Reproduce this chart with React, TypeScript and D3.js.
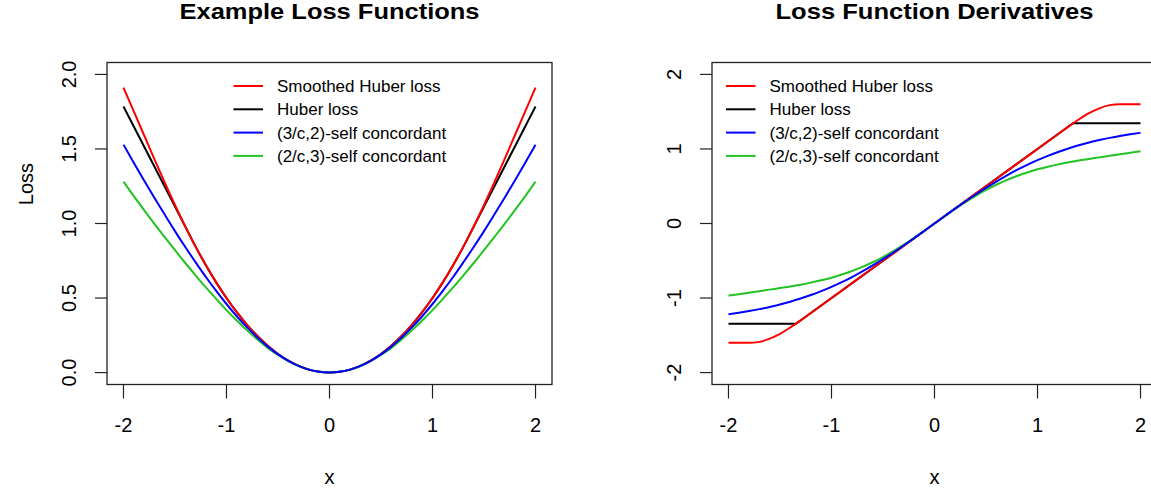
import React from "react";
import * as d3 from "d3";

// ---------- data ----------
const xGrid = [
  -2.0, -1.9, -1.8, -1.7, -1.6, -1.5, -1.4, -1.3, -1.2, -1.1, -1.0, -0.9, -0.8, -0.7, -0.6, -0.5, -0.4, -0.3, -0.2, -0.1,
  0.0, 0.1, 0.2, 0.3, 0.4, 0.5, 0.6, 0.7, 0.8, 0.9, 1.0, 1.1, 1.2, 1.3, 1.4, 1.5, 1.6, 1.7, 1.8, 1.9, 2.0,
];

// Loss values
const smoothedHuberLoss = [
  1.912, 1.752, 1.592, 1.432, 1.275, 1.124, 0.98, 0.845, 0.72, 0.605, 0.5, 0.405, 0.32, 0.245, 0.18, 0.125, 0.08, 0.045, 0.02, 0.005,
  0, 0.005, 0.02, 0.045, 0.08, 0.125, 0.18, 0.245, 0.32, 0.405, 0.5, 0.605, 0.72, 0.845, 0.98, 1.124, 1.275, 1.432, 1.592, 1.752, 1.912,
];
const huberLoss = [
  1.785, 1.651, 1.517, 1.382, 1.248, 1.113, 0.979, 0.845, 0.72, 0.605, 0.5, 0.405, 0.32, 0.245, 0.18, 0.125, 0.08, 0.045, 0.02, 0.005,
  0, 0.005, 0.02, 0.045, 0.08, 0.125, 0.18, 0.245, 0.32, 0.405, 0.5, 0.605, 0.72, 0.845, 0.979, 1.113, 1.248, 1.382, 1.517, 1.651, 1.785,
];
const sc32Loss = [
  1.529, 1.408, 1.289, 1.173, 1.06, 0.949, 0.842, 0.74, 0.641, 0.548, 0.46, 0.378, 0.303, 0.235, 0.174, 0.122, 0.079, 0.045, 0.02, 0.005,
  0, 0.005, 0.02, 0.045, 0.079, 0.122, 0.174, 0.235, 0.303, 0.378, 0.46, 0.548, 0.641, 0.74, 0.842, 0.949, 1.06, 1.173, 1.289, 1.408, 1.529,
];
const sc23Loss = [
  1.28, 1.184, 1.09, 0.998, 0.909, 0.821, 0.735, 0.652, 0.571, 0.494, 0.419, 0.349, 0.283, 0.222, 0.166, 0.118, 0.077, 0.044, 0.02, 0.005,
  0, 0.005, 0.02, 0.044, 0.077, 0.118, 0.166, 0.222, 0.283, 0.349, 0.419, 0.494, 0.571, 0.652, 0.735, 0.821, 0.909, 0.998, 1.09, 1.184, 1.28,
];

// Derivative values
const smoothedHuberDeriv = [
  -1.6, -1.6, -1.6, -1.588, -1.545, -1.48, -1.395, -1.3, -1.2, -1.1, -1.0, -0.9, -0.8, -0.7, -0.6, -0.5, -0.4, -0.3, -0.2, -0.1,
  0, 0.1, 0.2, 0.3, 0.4, 0.5, 0.6, 0.7, 0.8, 0.9, 1.0, 1.1, 1.2, 1.3, 1.395, 1.48, 1.545, 1.588, 1.6, 1.6, 1.6,
];
const huberDerivX = [-2, -1.345, 1.345, 2];
const huberDeriv = [-1.345, -1.345, 1.345, 1.345];
const sc32Deriv = [
  -1.217, -1.197, -1.175, -1.149, -1.119, -1.086, -1.049, -1.007, -0.96, -0.908, -0.85, -0.787, -0.718, -0.643, -0.563, -0.478, -0.389, -0.295, -0.199, -0.1,
  0, 0.1, 0.199, 0.295, 0.389, 0.478, 0.563, 0.643, 0.718, 0.787, 0.85, 0.908, 0.96, 1.007, 1.049, 1.086, 1.119, 1.149, 1.175, 1.197, 1.217,
];
const sc23Deriv = [
  -0.968, -0.948, -0.928, -0.908, -0.887, -0.866, -0.845, -0.821, -0.793, -0.762, -0.727, -0.685, -0.637, -0.582, -0.52, -0.45, -0.372, -0.287, -0.196, -0.0995,
  0, 0.0995, 0.196, 0.287, 0.372, 0.45, 0.52, 0.582, 0.637, 0.685, 0.727, 0.762, 0.793, 0.821, 0.845, 0.866, 0.887, 0.908, 0.928, 0.948, 0.968,
];

const legendLabels = ["Smoothed Huber loss", "Huber loss", "(3/c,2)-self concordant", "(2/c,3)-self concordant"];
const legendColors = ["#ff0000", "#000000", "#0000ff", "#22c322"];

const xTicks = [-2, -1, 0, 1, 2];
const lossTicks = [0, 0.5, 1, 1.5, 2];
const lossTickLabels = ["0.0", "0.5", "1.0", "1.5", "2.0"];
const derivTicks = [-2, -1, 0, 1, 2];
const derivTickLabels = ["-2", "-1", "0", "1", "2"];

// ---------- layout ----------
const W = 1151;
const H = 493;
const FONT = "'Liberation Sans', Arial, Helvetica, sans-serif";
const TOP = 62.5;
const BOTTOM = 384.5;

type Series = { xs: number[]; ys: number[]; color: string; smooth: boolean };

function Panel(props: {
  left: number;
  title: string;
  titleWidth: number;
  ylab: string | null;
  yDomain: [number, number];
  yTicks: number[];
  yTickLabels: string[];
  series: Series[];
}) {
  const { left, title, titleWidth, ylab, yDomain, yTicks, yTickLabels, series } = props;
  const right = left + 445;
  const x = d3.scaleLinear().domain([-2.16, 2.16]).range([left, right]);
  const span = yDomain[1] - yDomain[0];
  const y = d3
    .scaleLinear()
    .domain([yDomain[0] - 0.04 * span, yDomain[1] + 0.04 * span])
    .range([BOTTOM, TOP]);
  const cx = (left + right) / 2;
  const legX = left + (ylab ? 126.5 : 14);

  return (
    <g>
      {series.map((s, i) => {
        const pts = s.xs.map((xv, j) => [xv, s.ys[j]] as [number, number]);
        const line = d3
          .line<[number, number]>()
          .x((d) => x(d[0]))
          .y((d) => y(d[1]))
          .curve(s.smooth ? d3.curveMonotoneX : d3.curveLinear);
        return <path key={i} d={line(pts) || ""} fill="none" stroke={s.color} strokeWidth={2} />;
      })}
      <rect x={left} y={TOP} width={right - left} height={BOTTOM - TOP} fill="none" stroke="#222" strokeWidth={1.3} />
      {xTicks.map((t) => (
        <g key={"xt" + t}>
          <line x1={x(t)} x2={x(t)} y1={BOTTOM} y2={BOTTOM + 14} stroke="#222" strokeWidth={1.2} />
          <text x={x(t)} y={432} textAnchor="middle" fontSize={20} fontFamily={FONT}>
            {t < 0 ? "-" + Math.abs(t) : String(t)}
          </text>
        </g>
      ))}
      {yTicks.map((t, i) => (
        <g key={"yt" + t}>
          <line x1={left - 12} x2={left} y1={y(t)} y2={y(t)} stroke="#222" strokeWidth={1.2} />
          <text
            transform={`translate(${left - 31},${y(t)}) rotate(-90)`}
            textAnchor="middle"
            fontSize={20}
            fontFamily={FONT}
          >
            {yTickLabels[i]}
          </text>
        </g>
      ))}
      <text
        x={cx - titleWidth / 2}
        y={19}
        fontSize={22.5}
        fontWeight="bold"
        fontFamily={FONT}
        textLength={titleWidth}
        lengthAdjust="spacingAndGlyphs"
      >
        {title}
      </text>
      <text x={cx} y={484} textAnchor="middle" fontSize={20} fontFamily={FONT}>
        x
      </text>
      {ylab && (
        <text transform={`translate(33,184) rotate(-90)`} textAnchor="middle" fontSize={20} fontFamily={FONT}>
          {ylab}
        </text>
      )}
      {legendLabels.map((lab, i) => {
        const ly = 86 + i * 23.3;
        return (
          <g key={lab}>
            <line x1={legX} x2={legX + 29.5} y1={ly} y2={ly} stroke={legendColors[i]} strokeWidth={2} />
            <text x={legX + 43.5} y={ly + 6} fontSize={17} fontFamily={FONT}>
              {lab}
            </text>
          </g>
        );
      })}
    </g>
  );
}

export default function App() {
  const lossSeries: Series[] = [
    { xs: xGrid, ys: huberLoss, color: legendColors[1], smooth: true },
    { xs: xGrid, ys: smoothedHuberLoss, color: legendColors[0], smooth: true },
    { xs: xGrid, ys: sc23Loss, color: legendColors[3], smooth: true },
    { xs: xGrid, ys: sc32Loss, color: legendColors[2], smooth: true },
  ];
  const derivSeries: Series[] = [
    { xs: huberDerivX, ys: huberDeriv, color: legendColors[1], smooth: false },
    { xs: xGrid, ys: smoothedHuberDeriv, color: legendColors[0], smooth: true },
    { xs: xGrid, ys: sc23Deriv, color: legendColors[3], smooth: true },
    { xs: xGrid, ys: sc32Deriv, color: legendColors[2], smooth: true },
  ];
  return (
    <svg
      width={W}
      height={H}
      style={{ position: "absolute", left: 0, top: 0, display: "block", background: "#fff" }}
    >
      <rect x={0} y={0} width={W} height={H} fill="#fff" />
      <Panel
        left={107}
        title="Example Loss Functions"
        titleWidth={300}
        ylab="Loss"
        yDomain={[0, 2]}
        yTicks={lossTicks}
        yTickLabels={lossTickLabels}
        series={lossSeries}
      />
      <Panel
        left={712}
        title="Loss Function Derivatives"
        titleWidth={318}
        ylab={null}
        yDomain={[-2, 2]}
        yTicks={derivTicks}
        yTickLabels={derivTickLabels}
        series={derivSeries}
      />
    </svg>
  );
}
